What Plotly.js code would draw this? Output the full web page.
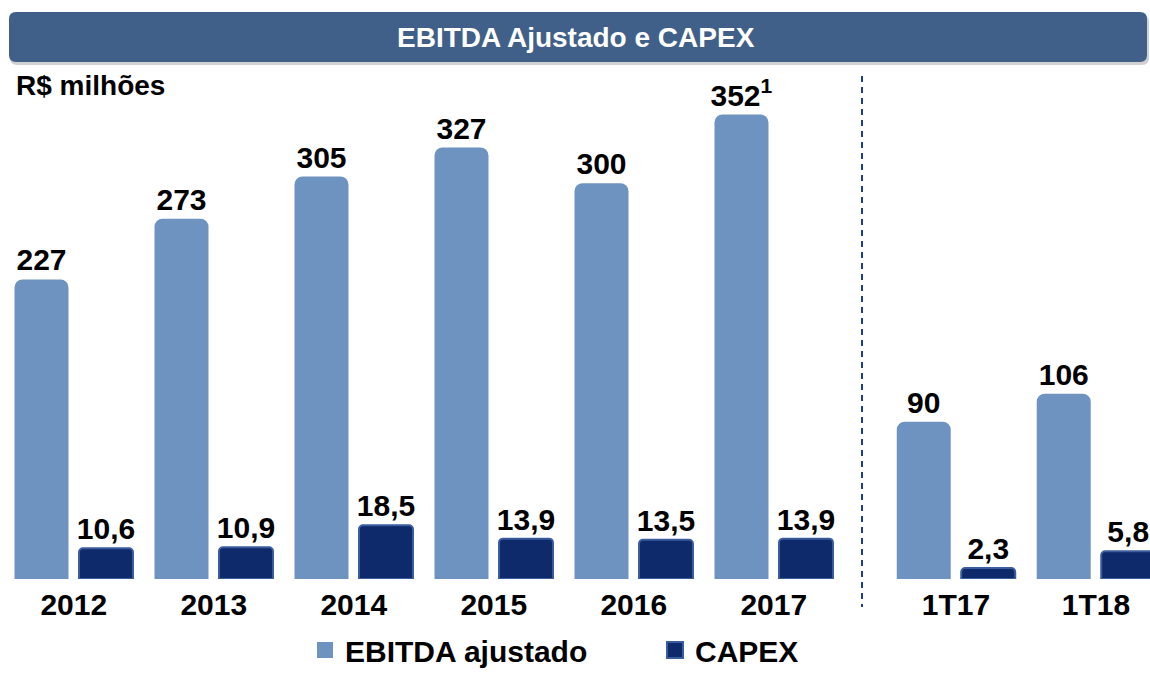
<!DOCTYPE html>
<html>
<head>
<meta charset="utf-8">
<script src="https://cdn.plot.ly/plotly-3.0.1.min.js"></script>
<style>html,body{margin:0;padding:0;background:#fff;}#chart{width:1150px;height:673px;}</style>
</head>
<body>
<div id="chart"></div>
<script>
// ---- data ----
const years = ['2012', '2013', '2014', '2015', '2016', '2017'];
const ebitdaYears = [227, 273, 305, 327, 300, 352];
const ebitdaYearNotes = ['', '', '', '', '', '1'];
const capexYears = [10.6, 10.9, 18.5, 13.9, 13.5, 13.9];
const quarters = ['1T17', '1T18'];
const ebitdaQuarters = [90, 106];
const capexQuarters = [2.3, 5.8];
const seriesNames = ['EBITDA ajustado', 'CAPEX'];
const titleText = 'EBITDA Ajustado e CAPEX';
const unitText = 'R$ milhões';

// ---- styling ----
const W = 1150, H = 673;
const mL = 0, mR = 0, mT = 100, mB = 94;
const plotW = W - mL - mR, plotH = H - mT - mB;
const px2x = px => (px - mL) / plotW;
const py2y = py => (H - mB - py) / plotH;
const FONT = 'Liberation Sans, Arial, sans-serif';
const EB_COLOR = '#6f93c0';
const CX_COLOR = '#0f2a6b';
const CX_LINE = '#3b5c9e';

const fmtComma = v => v.toFixed(1).replace('.', ',');
const ebLabel = (v, n) => n ? v + '<sup>' + n + '</sup>' : String(v);

const barW = 54 / 140;
const ebOff = -59.25 / 140;
const cxOff = 5.25 / 140;

const textFont = {family: FONT, size: 30, color: '#000', weight: 'bold'};

function ebTrace(x, y, notes, xa, ya) {
  return {
    type: 'bar', x: x, y: y, xaxis: xa, yaxis: ya,
    name: seriesNames[0], showlegend: false, legendgroup: 'eb',
    width: barW, offset: ebOff,
    marker: {color: EB_COLOR, cornerradius: 8, line: {width: 0}},
    text: y.map((v, i) => ebLabel(v, notes ? notes[i] : '')),
    textposition: 'outside', textfont: textFont, constraintext: 'none',
    cliponaxis: false, hoverinfo: 'skip'
  };
}
function cxTrace(x, y, xa, ya) {
  return {
    type: 'bar', x: x, y: y, xaxis: xa, yaxis: ya,
    name: seriesNames[1], showlegend: false, legendgroup: 'cx',
    width: barW, offset: cxOff,
    marker: {color: CX_COLOR, cornerradius: 4, line: {width: 2, color: CX_LINE}},
    text: y.map(fmtComma),
    textposition: 'outside', textfont: textFont, constraintext: 'none',
    cliponaxis: false, hoverinfo: 'skip'
  };
}
// legend entries with larger square symbols
function legendEntry(name, group, color, lineColor) {
  return {
    type: 'scatter', mode: 'markers', x: [null], y: [null], xaxis: 'x', yaxis: 'y',
    name: name, legendgroup: group, showlegend: true, hoverinfo: 'skip',
    marker: {symbol: 'square', size: 16, color: color, line: {width: lineColor ? 2 : 0, color: lineColor || color}}
  };
}

const data = [
  ebTrace(years, ebitdaYears, ebitdaYearNotes, 'x', 'y'),
  cxTrace(years, capexYears, 'x', 'y2'),
  ebTrace(quarters, ebitdaQuarters, null, 'x2', 'y3'),
  cxTrace(quarters, capexQuarters, 'x2', 'y4'),
  legendEntry(seriesNames[0], 'eb', EB_COLOR, null),
  legendEntry(seriesNames[1], 'cx', CX_COLOR, CX_LINE)
];

// rounded banner path in paper coords
function roundRect(x0, y0, x1, y1, r) {
  const X = px2x, Y = py2y;
  return 'M' + X(x0 + r) + ',' + Y(y0) +
    ' L' + X(x1 - r) + ',' + Y(y0) +
    ' Q' + X(x1) + ',' + Y(y0) + ' ' + X(x1) + ',' + Y(y0 + r) +
    ' L' + X(x1) + ',' + Y(y1 - r) +
    ' Q' + X(x1) + ',' + Y(y1) + ' ' + X(x1 - r) + ',' + Y(y1) +
    ' L' + X(x0 + r) + ',' + Y(y1) +
    ' Q' + X(x0) + ',' + Y(y1) + ' ' + X(x0) + ',' + Y(y1 - r) +
    ' L' + X(x0) + ',' + Y(y0 + r) +
    ' Q' + X(x0) + ',' + Y(y0) + ' ' + X(x0 + r) + ',' + Y(y0) + ' Z';
}

const axisFont = {family: FONT, size: 30, color: '#000', weight: 'bold'};

const layout = {
  width: W, height: H,
  margin: {l: mL, r: mR, t: mT, b: mB, pad: 0, autoexpand: false},
  paper_bgcolor: '#fff', plot_bgcolor: 'rgba(0,0,0,0)',
  font: {family: FONT, color: '#000'},
  barmode: 'overlay',
  showlegend: true,
  legend: {
    orientation: 'h', x: px2x(305), xanchor: 'left', y: py2y(650), yanchor: 'middle',
    font: {family: FONT, size: 30, color: '#000', weight: 'bold'},
    bgcolor: 'rgba(0,0,0,0)', traceorder: 'normal', itemwidth: 30,
    entrywidth: 305, entrywidthmode: 'pixels'
  },
  xaxis: {
    type: 'category', domain: [px2x(3.75), px2x(843.75)], anchor: 'y', range: [-0.5, 5.5],
    showgrid: false, zeroline: false, showline: false, ticks: '',
    tickfont: axisFont, fixedrange: true, ticklabelstandoff: 5
  },
  xaxis2: {
    type: 'category', domain: [px2x(886), 1], anchor: 'y3', range: [-0.5, 1.386],
    showgrid: false, zeroline: false, showline: false, ticks: '',
    tickfont: axisFont, fixedrange: true, ticklabelstandoff: 5
  },
  yaxis: {domain: [0, 1], range: [0, 363], visible: false, anchor: 'x'},
  yaxis2: {range: [0, 165], visible: false, overlaying: 'y', anchor: 'x'},
  yaxis3: {domain: [0, 1], range: [0, 274], visible: false, anchor: 'x2'},
  yaxis4: {range: [0, 100], visible: false, overlaying: 'y3', anchor: 'x2'},
  shapes: [
    {type: 'path', xref: 'paper', yref: 'paper', path: roundRect(10, 15, 1149, 65, 7),
     fillcolor: 'rgba(0,0,0,0.18)', line: {width: 0}, layer: 'below'},
    {type: 'path', xref: 'paper', yref: 'paper', path: roundRect(9, 12, 1147, 62, 7),
     fillcolor: '#406089', line: {width: 0}, layer: 'below'},
    {type: 'line', xref: 'paper', yref: 'paper', x0: px2x(862), x1: px2x(862),
     y0: py2y(76), y1: py2y(607), line: {color: '#1f3aa0', width: 2, dash: '6px,5px'}}
  ],
  annotations: [
    {xref: 'paper', yref: 'paper', x: px2x(576), y: py2y(38), xanchor: 'center', yanchor: 'middle',
     text: titleText, showarrow: false,
     font: {family: FONT, size: 28, color: '#fff', weight: 'bold'}},
    {xref: 'paper', yref: 'paper', x: px2x(14), y: py2y(85), xanchor: 'left', yanchor: 'middle',
     text: unitText, showarrow: false,
     font: {family: FONT, size: 28, color: '#000', weight: 'bold'}}
  ]
};

Plotly.newPlot('chart', data, layout, {displayModeBar: false, staticPlot: true});
</script>
</body>
</html>
